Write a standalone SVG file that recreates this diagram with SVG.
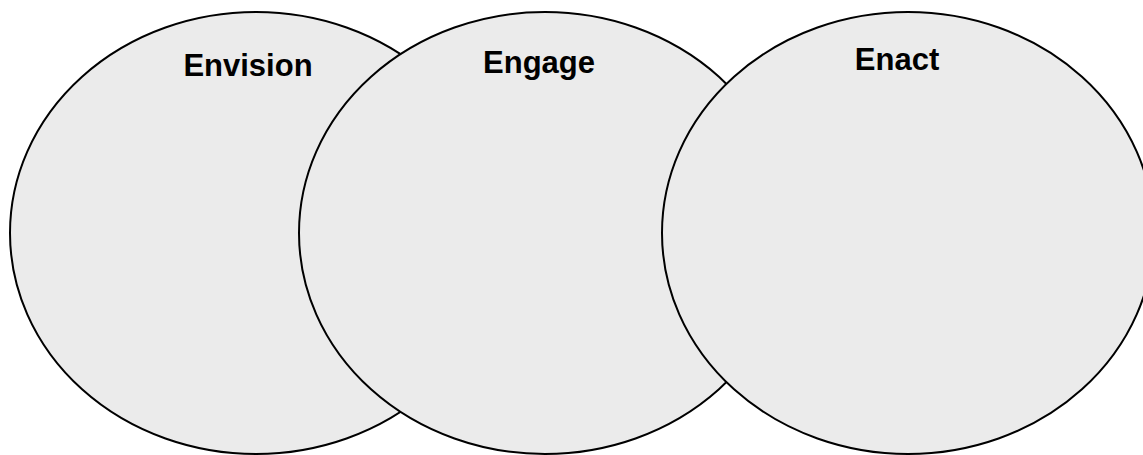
<svg xmlns="http://www.w3.org/2000/svg" width="1143" height="455" viewBox="0 0 1143 455">
  <style>
    .lobe { fill: #ebebeb; stroke: #000000; stroke-width: 2; }
    .title { font-family: "Liberation Sans", Arial, Helvetica, sans-serif; font-weight: bold; font-size: 31px; fill: #000000; text-anchor: middle; }
  </style>
  <rect width="1143" height="455" fill="#ffffff"/>
  <!-- three overlapping ellipses, later ones drawn over earlier ones -->
  <g id="envision">
    <ellipse class="lobe" cx="256" cy="233" rx="246" ry="221"/>
    <text class="title" x="248" y="76">Envision</text>
  </g>
  <g id="engage">
    <ellipse class="lobe" cx="545" cy="233" rx="246" ry="221"/>
    <text class="title" x="539" y="73">Engage</text>
  </g>
  <g id="enact">
    <ellipse class="lobe" cx="908" cy="233" rx="246" ry="221"/>
    <text class="title" x="897" y="70">Enact</text>
  </g>
  <g id="connectors"/>
</svg>
